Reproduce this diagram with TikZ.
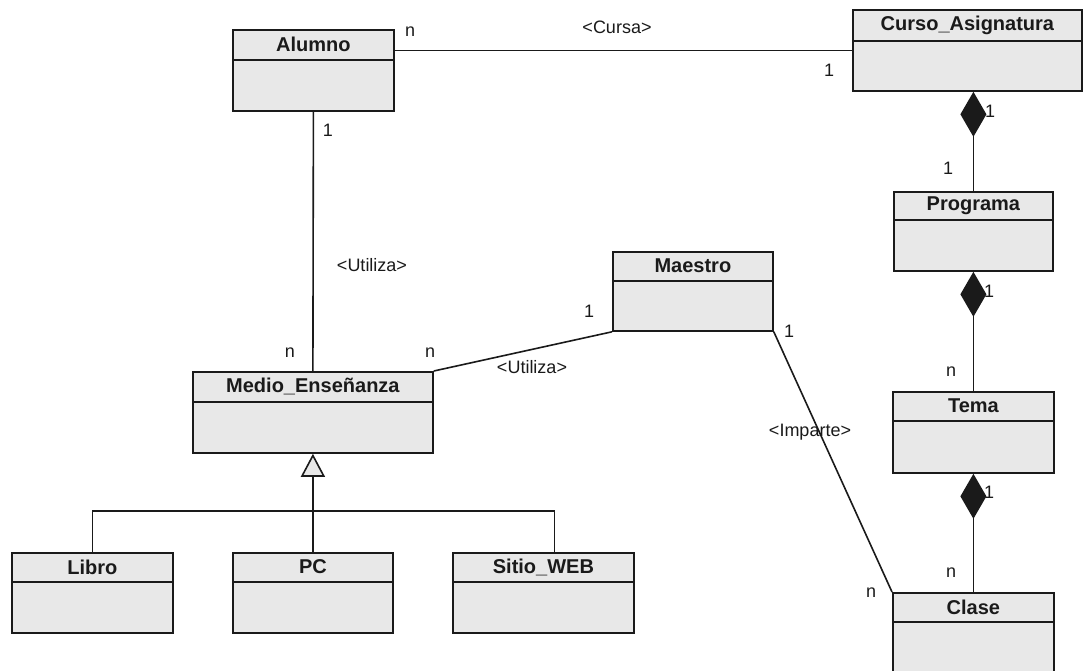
\documentclass[tikz,border=0pt]{standalone}
\usepackage{fontspec}
\setmainfont{Liberation Sans}
\usetikzlibrary{arrows.meta,calc}
\definecolor{boxfill}{HTML}{E8E8E8}
\definecolor{ink}{HTML}{1A1A1A}
\tikzset{
  classbox/.style={draw=ink, fill=boxfill, line width=1.8pt, rectangle, inner sep=0pt, anchor=north west},
  divider/.style={draw=ink, line width=1.8pt},
  classname/.style={font=\bfseries\fontsize{20}{24}\selectfont, text=ink, inner sep=0pt},
  conn/.style={draw=ink, line width=1.6pt},
  lbl/.style={font=\fontsize{18}{21}\selectfont, text=ink, inner sep=0pt},
  compose/.style={{Diamond[length=45pt,width=26pt,fill=ink]}-},
  inherit/.style={-{Triangle[length=23pt,width=24pt,fill=boxfill]}},
}
% \umlclass{name}{x}{y}{width}{height}{header height}{title}
\newcommand\umlclass[7]{%
  \node[classbox, minimum width=#4pt, minimum height=#5pt] (#1) at (#2,#3) {};
  \draw[divider] ($(#1.north west)+(0,#6)$) -- ($(#1.north east)+(0,#6)$);
  \node[classname] (#1-title) at ($(#1.north)+(0,#6/2)$) {#7};
}
\begin{document}
\begin{tikzpicture}[x=1pt,y=-1pt]
  \useasboundingbox (0,0) rectangle (1083,670);

  % classes
  \umlclass{Alumno}{232}{29}{161}{81}{31}{Alumno}
  \umlclass{Curso}{852}{9}{229}{81}{32}{Curso\_Asignatura}
  \umlclass{Programa}{893}{191}{159}{79}{29}{Programa}
  \umlclass{Maestro}{612}{251}{160}{79}{30}{Maestro}
  \umlclass{Medio}{192}{371}{240}{81}{31}{Medio\_Enseñanza}
  \umlclass{Tema}{892}{391}{161}{81}{30}{Tema}
  \umlclass{Clase}{892}{592}{161}{84}{30}{Clase}
  \umlclass{Libro}{11}{552}{161}{80}{30}{Libro}
  \umlclass{PC}{232}{552}{160}{80}{30}{PC}
  \umlclass{Sitio}{452}{552}{181}{80}{30}{Sitio\_WEB}

  % associations
  \draw[conn] (Curso.west) -- (Curso.west -| Alumno.east);
  \draw[conn] (Alumno.south) -- (Medio.north);
  \draw[conn] (Medio.north east) -- (Maestro.south west);
  \draw[conn] (Maestro.south east) -- (Clase.north west);

  % compositions
  \draw[conn, compose] (Programa.north |- Curso.south) -- (Programa.north);
  \draw[conn, compose] (Programa.south) -- (Tema.north);
  \draw[conn, compose] (Tema.south) -- (Clase.north);

  % generalization
  \draw[conn, inherit] (PC.north) -- (Medio.south);
  \draw[conn] (Libro.north) |- ($(Sitio.north)+(11,-41)$) -- ($(Sitio.north)+(11,0)$);

  % multiplicities and association names
  \node[lbl] (l1) at (410,32) {n};
  \node[lbl] (l2) at (617,27) {<Cursa>};
  \node[lbl] (l3) at (829,70) {1};
  \node[lbl] (l4) at (328,130) {1};
  \node[lbl] (l5) at (372,265) {<Utiliza>};
  \node[lbl] (l6) at (290,353) {n};
  \node[lbl] (l7) at (430,353) {n};
  \node[lbl] (l8) at (589,311) {1};
  \node[lbl] (l9) at (532,367) {<Utiliza>};
  \node[lbl] (l10) at (789,331) {1};
  \node[lbl] (l11) at (810,432) {<Imparte>};
  \node[lbl] (l12) at (871,593) {n};
  \node[lbl] (l13) at (990,111) {1};
  \node[lbl] (l14) at (948,168) {1};
  \node[lbl] (l15) at (989,291) {1};
  \node[lbl] (l16) at (951,372) {n};
  \node[lbl] (l17) at (989,492) {1};
  \node[lbl] (l18) at (951,573) {n};
\end{tikzpicture}
\end{document}
